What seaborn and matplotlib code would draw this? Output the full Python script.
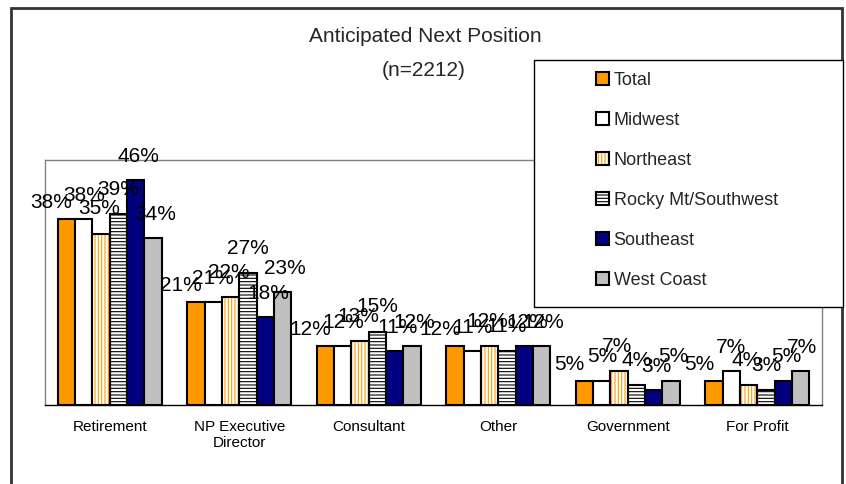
import matplotlib
matplotlib.use('Agg')
import matplotlib.pyplot as plt
import seaborn as sns
import pandas as pd
from matplotlib.patches import Rectangle, Patch
from matplotlib.ticker import FixedLocator
from matplotlib.legend_handler import HandlerTuple

# ---- data ----
positions = ['Retirement', 'NP Executive\nDirector', 'Consultant', 'Other', 'Government', 'For Profit']
regions = ['Total', 'Midwest', 'Northeast', 'Rocky Mt/Southwest', 'Southeast', 'West Coast']
total = [38, 21, 12, 12, 5, 5]
midwest = [38, 21, 12, 11, 5, 7]
northeast = [35, 22, 13, 12, 7, 4]
rocky = [39, 27, 15, 11, 4, 3]
southeast = [46, 18, 11, 12, 3, 5]
west_coast = [34, 23, 12, 12, 5, 7]
series = [total, midwest, northeast, rocky, southeast, west_coast]

title_line1 = 'Anticipated Next Position'
title_line2 = '(n=2212)'

rows = []
for reg, vals in zip(regions, series):
    for pos, v in zip(positions, vals):
        rows.append({'Position': pos, 'Region': reg, 'Pct': v})
df = pd.DataFrame(rows)

# ---- style ----
sns.set_style('white')
plt.rcParams['font.family'] = ['Liberation Sans', 'DejaVu Sans']
plt.rcParams['hatch.linewidth'] = 0.8

ORANGE = '#FF9900'
NAVY = '#000080'
GRAY = '#C0C0C0'
face = {'Total': ORANGE, 'Midwest': 'white', 'Northeast': 'white',
        'Rocky Mt/Southwest': 'white', 'Southeast': NAVY, 'West Coast': GRAY}

W, H = 846, 484
fig = plt.figure(figsize=(W / 100, H / 100), dpi=100)
fig.patch.set_facecolor('white')
ax = fig.add_axes([45 / W, (H - 405) / H, (822 - 45) / W, (405 - 160) / H])

sns.barplot(data=df, x='Position', y='Pct', hue='Region', order=positions,
            hue_order=regions, palette=face, saturation=1, edgecolor='black',
            linewidth=1.5, width=0.8, ax=ax, legend=False)

# styling of patterned series
ne_cont = ax.containers[2]
for bar in ne_cont:
    bar.set_facecolor('white')
    bar.set_edgecolor(ORANGE)
    bar.set_hatch('|||||')
    bar.set_linewidth(0)
    ax.add_patch(Rectangle(bar.get_xy(), bar.get_width(), bar.get_height(),
                           facecolor='none', edgecolor='black', linewidth=1.5,
                           zorder=bar.get_zorder() + 0.1))
for bar in ax.containers[3]:
    bar.set_facecolor('white')
    bar.set_hatch('-----')

# data labels
dx = [-15, 0, -2, 0, 3, 2]
dy = [11, 18, 19, 19, 18, 18]
for i, cont in enumerate(ax.containers[:6]):
    for bar, v in zip(cont, series[i]):
        ax.annotate(f'{v}%', xy=(bar.get_x() + bar.get_width() / 2, bar.get_height()),
                    xytext=(dx[i], dy[i]), textcoords='offset pixels',
                    ha='center', va='baseline', fontsize=15, color='black',
                    annotation_clip=False, zorder=6)

ax.set_ylim(0, 50)
ax.set_xlim(-0.5, len(positions) - 0.5)
ax.set_xlabel('')
ax.set_ylabel('')
ax.set_yticks([])
ax.tick_params(axis='x', which='major', length=0, pad=11, labelsize=11, colors='black')
ax.xaxis.set_minor_locator(FixedLocator([k - 0.5 for k in range(len(positions) + 1)]))
ax.tick_params(axis='x', which='minor', length=4, width=1, color='black', direction='out')
for s in ['top', 'right', 'left']:
    ax.spines[s].set_color('#808080')
    ax.spines[s].set_linewidth(1)
ax.spines['bottom'].set_color('black')
ax.spines['bottom'].set_linewidth(1)

# titles
fig.text(425 / W, 1 - 37 / H, title_line1, ha='center', va='center', fontsize=15)
fig.text(424 / W, 1 - 70 / H, title_line2, ha='center', va='center', fontsize=15)

# outer chart border
fig.add_artist(Rectangle((11 / W, -0.05), (842 - 11) / W, 1.05 - 8 / H,
                         transform=fig.transFigure, facecolor='none',
                         edgecolor='#333333', linewidth=2, zorder=1))

# legend frame
fig.add_artist(Rectangle((534 / W, 1 - 307 / H), (843 - 534) / W, (307 - 60) / H,
                         transform=fig.transFigure, facecolor='white',
                         edgecolor='black', linewidth=1, zorder=3))

handles = []
for reg in regions:
    if reg == 'Northeast':
        handles.append((Patch(facecolor='white', edgecolor=ORANGE, hatch='|||||', linewidth=0),
                        Patch(facecolor='none', edgecolor='black', linewidth=1.5)))
    elif reg == 'Rocky Mt/Southwest':
        handles.append(Patch(facecolor='white', edgecolor='black', hatch='-----', linewidth=1.5))
    else:
        handles.append(Patch(facecolor=face[reg], edgecolor='black', linewidth=1.5))

leg = fig.legend(handles, regions, loc='upper left',
                 bbox_to_anchor=(596 / W, 1 - 72 / H), frameon=False,
                 fontsize=13, borderpad=0, borderaxespad=0,
                 handlelength=0.72, handleheight=0.72, handletextpad=0.25,
                 labelspacing=1.27, handler_map={tuple: HandlerTuple(ndivide=1)})
leg.set_zorder(5)

fig.savefig('out.png', dpi=100, facecolor='white')
